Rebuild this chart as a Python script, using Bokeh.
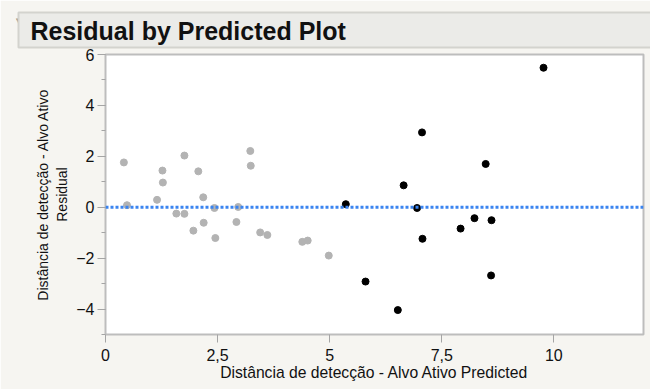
from bokeh.plotting import figure
from bokeh.models import (Range1d, Span, Title, FixedTicker, SingleIntervalTicker,
                          ColumnDataSource)
from bokeh.embed import file_html
from bokeh.resources import INLINE

# ---- data ----
gray_pred = [0.41, 0.48, 1.15, 1.27, 1.28, 1.58, 1.76, 1.76, 1.96, 2.07, 2.18, 2.19,
             2.43, 2.45, 2.92, 2.96, 3.23, 3.24, 3.45, 3.61, 4.39, 4.51, 4.98]
gray_resid = [1.76, 0.08, 0.29, 1.44, 0.97, -0.25, -0.26, 2.03, -0.92, 1.41, 0.39, -0.61,
              -0.03, -1.21, -0.58, 0.01, 2.21, 1.63, -0.99, -1.09, -1.36, -1.31, -1.90]
black_pred = [5.36, 9.77, 7.06, 8.48, 6.65, 6.95, 8.23, 8.61, 7.92, 7.07, 5.80, 8.60, 6.52]
black_resid = [0.12, 5.48, 2.94, 1.70, 0.86, -0.03, -0.43, -0.51, -0.84, -1.24, -2.92, -2.68, -4.04]
x_ticks = [0, 2.5, 5, 7.5, 10]
x_tick_labels = ["0", "2,5", "5", "7,5", "10"]

title_text = "Residual by Predicted Plot"
x_label = "Distância de detecção - Alvo Ativo Predicted"
y_label = "Distância de detecção - Alvo Ativo\nResidual"

PAGE_BG = "#f6f5f1"
FONT = "Liberation Sans"

p = figure(width=650, height=389, output_backend="svg", toolbar_location=None,
           x_range=Range1d(0, 12), y_range=Range1d(-5, 6),
           min_border_left=105, min_border_right=7, min_border_top=54, min_border_bottom=55)
p.border_fill_color = PAGE_BG
p.background_fill_color = "white"
p.outline_line_color = "#bdbdbd"
p.outline_line_width = 2
p.grid.visible = False

p.title = Title(text=title_text, align="left", offset=-87, standoff=14,
                text_font=FONT, text_font_style="bold", text_font_size="25px",
                text_color="#111111",
                background_fill_color="#ebebe8", border_line_color="#d3d3ce",
                border_line_width=2,
                padding=dict(left=12, right=400, top=4, bottom=3))

# disclosure triangle (rotated side title, so it can sit outside the frame)
p.add_layout(Title(text="◀", align="right", offset=-36, standoff=13,
                   text_font="DejaVu Sans", text_font_size="11px",
                   text_font_style="normal", text_color="#8a8a8a"), "left")

p.add_layout(Span(location=0, dimension="width", line_color="#3a84f0",
                  line_width=3, line_dash="3 2"))

gsrc = ColumnDataSource(dict(x=gray_pred, y=gray_resid))
bsrc = ColumnDataSource(dict(x=black_pred, y=black_resid))
p.scatter("x", "y", source=gsrc, size=7, color="#b3b3b3")
p.scatter("x", "y", source=bsrc, size=7, color="black")

xa = p.xaxis[0]
xa.ticker = FixedTicker(ticks=x_ticks, minor_ticks=[])
xa.major_label_overrides = {float(v): s for v, s in zip(x_ticks, x_tick_labels)}
xa.axis_label = x_label

ya = p.yaxis[0]
ya.ticker = SingleIntervalTicker(interval=2, num_minor_ticks=2)
ya.axis_label = y_label

for ax in (xa, ya):
    ax.axis_line_color = "#bdbdbd"
    ax.axis_line_width = 1
    ax.major_tick_line_color = "#a5a5a5"
    ax.minor_tick_line_color = "#a5a5a5"
    ax.major_tick_in = 0
    ax.minor_tick_in = 0
    ax.major_tick_out = 8
    ax.minor_tick_out = 4
    ax.major_label_text_font = FONT
    ax.major_label_text_font_size = "16px"
    ax.major_label_text_color = "#111111"
    ax.axis_label_text_font = FONT
    ax.axis_label_text_font_style = "normal"
    ax.axis_label_text_color = "#111111"

xa.major_label_standoff = 6
xa.axis_label_standoff = 0
xa.axis_label_text_font_size = "15.7px"
ya.major_label_standoff = 3
ya.axis_label_standoff = 3
ya.axis_label_text_font_size = "14px"

open("out.html", "w").write(file_html(p, INLINE))
